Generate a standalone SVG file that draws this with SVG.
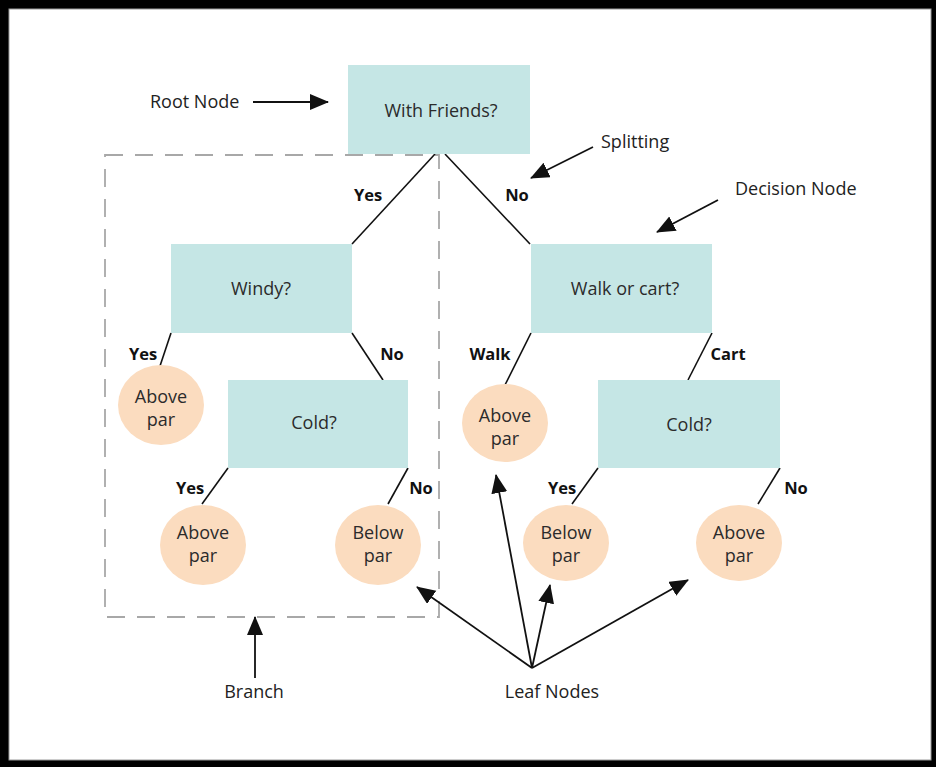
<svg xmlns="http://www.w3.org/2000/svg" width="936" height="767" viewBox="0 0 936 767">
  <style>
    .box { fill: #c5e6e5; }
    .leaf { fill: #fbdcbf; }
    .txt { font-family: "Open Sans", "Noto Sans", sans-serif; font-size: 18px; fill: #2b2b2b; text-anchor: middle; dominant-baseline: central; }
    .lbl { font-family: "Open Sans", "Noto Sans", sans-serif; font-size: 16.5px; font-weight: bold; fill: #111; text-anchor: middle; dominant-baseline: central; }
    .ann { font-family: "Open Sans", "Noto Sans", sans-serif; font-size: 18px; fill: #222; dominant-baseline: central; }
    .edge { stroke: #111; stroke-width: 1.6; fill: none; }
    .ptr { stroke: #111; stroke-width: 1.8; fill: none; marker-end: url(#head); }
  </style>
  <defs>
    <marker id="head" markerUnits="userSpaceOnUse" markerWidth="20" markerHeight="18" refX="18" refY="8" orient="auto">
      <path d="M0,0 L19,8 L0,16 Z" fill="#111"/>
    </marker>
  </defs>

  <!-- frame -->
  <rect x="0" y="0" width="936" height="767" fill="#000"/>
  <rect x="9" y="9" width="922" height="751" fill="#fff" stroke="#999" stroke-width="1"/>

  <!-- branch outline -->
  <rect id="branch-frame" x="105" y="155" width="334" height="462" fill="none" stroke="#a8a8a8" stroke-width="1.8" stroke-dasharray="18 12"/>

  <!-- connectors -->
  <g id="connectors">
    <line class="edge" x1="435" y1="154" x2="352" y2="244"/>
    <line class="edge" x1="445" y1="154" x2="530" y2="244"/>
    <line class="edge" x1="171" y1="333" x2="160" y2="366"/>
    <line class="edge" x1="352" y1="333" x2="383" y2="380"/>
    <line class="edge" x1="228" y1="468" x2="202" y2="504"/>
    <line class="edge" x1="408" y1="468" x2="388" y2="504"/>
    <line class="edge" x1="531" y1="333" x2="505" y2="385"/>
    <line class="edge" x1="712" y1="333" x2="688" y2="380"/>
    <line class="edge" x1="598" y1="468" x2="572" y2="504"/>
    <line class="edge" x1="780" y1="468" x2="758" y2="504"/>

    <text class="lbl" x="368" y="194">Yes</text>
    <text class="lbl" x="517" y="194">No</text>
    <text class="lbl" x="143" y="353">Yes</text>
    <text class="lbl" x="392" y="353">No</text>
    <text class="lbl" x="190" y="487">Yes</text>
    <text class="lbl" x="421" y="487">No</text>
    <text class="lbl" x="490" y="353">Walk</text>
    <text class="lbl" x="728" y="353">Cart</text>
    <text class="lbl" x="562" y="487">Yes</text>
    <text class="lbl" x="796" y="487">No</text>
  </g>

  <!-- decision nodes -->
  <g id="root">
    <rect class="box" x="348" y="65" width="182" height="89"/>
    <text class="txt" x="441" y="110">With Friends?</text>
  </g>
  <g id="windy">
    <rect class="box" x="171" y="244" width="181" height="89"/>
    <text class="txt" x="261" y="288">Windy?</text>
  </g>
  <g id="walk-or-cart">
    <rect class="box" x="531" y="244" width="181" height="89"/>
    <text class="txt" x="625" y="288">Walk or cart?</text>
  </g>
  <g id="cold-left">
    <rect class="box" x="228" y="380" width="180" height="88"/>
    <text class="txt" x="314" y="422">Cold?</text>
  </g>
  <g id="cold-right">
    <rect class="box" x="598" y="380" width="182" height="88"/>
    <text class="txt" x="689" y="424">Cold?</text>
  </g>

  <!-- leaf nodes -->
  <g id="leaf-windy-yes">
    <ellipse class="leaf" cx="161" cy="405" rx="43" ry="40"/>
    <text class="txt" x="161" y="396">Above</text>
    <text class="txt" x="161" y="419">par</text>
  </g>
  <g id="leaf-cold-left-yes">
    <ellipse class="leaf" cx="203" cy="545" rx="43" ry="40"/>
    <text class="txt" x="203" y="532">Above</text>
    <text class="txt" x="203" y="555">par</text>
  </g>
  <g id="leaf-cold-left-no">
    <ellipse class="leaf" cx="378" cy="545" rx="43" ry="40"/>
    <text class="txt" x="378" y="532">Below</text>
    <text class="txt" x="378" y="555">par</text>
  </g>
  <g id="leaf-walk">
    <ellipse class="leaf" cx="505" cy="423" rx="43" ry="39"/>
    <text class="txt" x="505" y="415">Above</text>
    <text class="txt" x="505" y="438">par</text>
  </g>
  <g id="leaf-cold-right-yes">
    <ellipse class="leaf" cx="566" cy="543" rx="43" ry="38"/>
    <text class="txt" x="566" y="532">Below</text>
    <text class="txt" x="566" y="555">par</text>
  </g>
  <g id="leaf-cold-right-no">
    <ellipse class="leaf" cx="739" cy="543" rx="43" ry="38"/>
    <text class="txt" x="739" y="532">Above</text>
    <text class="txt" x="739" y="555">par</text>
  </g>

  <!-- annotations -->
  <g id="annotations">
    <text class="ann" x="150" y="101">Root Node</text>
    <line class="ptr" x1="253" y1="102" x2="328" y2="102"/>
    <text class="ann" x="601" y="141">Splitting</text>
    <line class="ptr" x1="593" y1="147" x2="531" y2="178"/>
    <text class="ann" x="735" y="188">Decision Node</text>
    <line class="ptr" x1="718" y1="200" x2="657" y2="232"/>
    <text class="ann" x="254" y="691" text-anchor="middle">Branch</text>
    <line class="ptr" x1="255" y1="678" x2="255" y2="617"/>
    <text class="ann" x="552" y="691" text-anchor="middle">Leaf Nodes</text>
    <line class="ptr" x1="532" y1="668" x2="417" y2="587"/>
    <line class="ptr" x1="532" y1="668" x2="496" y2="475"/>
    <line class="ptr" x1="532" y1="668" x2="550" y2="585"/>
    <line class="ptr" x1="532" y1="668" x2="688" y2="580"/>
  </g>
</svg>
